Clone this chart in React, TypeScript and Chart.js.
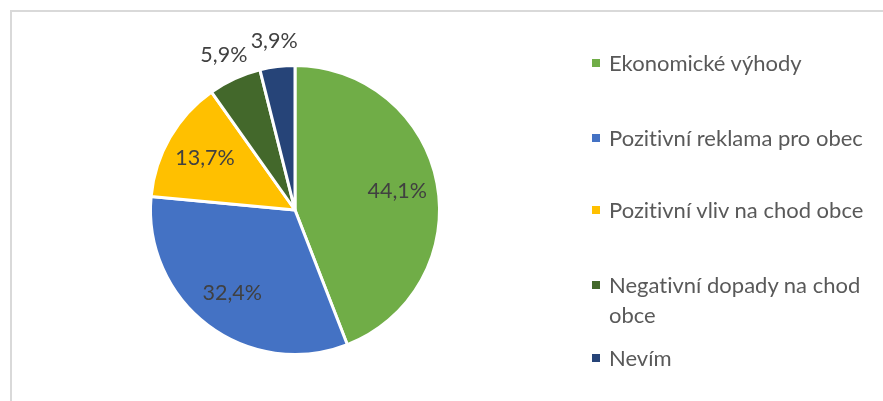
import React, { useEffect, useRef } from "react";
import { Chart, registerables } from "chart.js";

Chart.register(...registerables);

const categories = [
  "Ekonomické výhody",
  "Pozitivní reklama pro obec",
  "Pozitivní vliv na chod obce",
  "Negativní dopady na chod obce",
  "Nevím",
];
const shares = [44.1, 32.4, 13.7, 5.9, 3.9];
const colors = ["#70AD47", "#4472C4", "#FFC000", "#43682B", "#264478"];
const valueLabels = shares.map((v) => v.toFixed(1).replace(".", ",") + "%");

const FONT = "Lato, 'Open Sans', sans-serif";
const legendTops = [48, 123, 195, 270, 343];

const labelPlugin = {
  id: "sliceLabels",
  afterDatasetsDraw(chart: any) {
    const ctx = chart.ctx;
    const meta = chart.getDatasetMeta(0);
    ctx.save();
    ctx.font = `21.5px ${FONT}`;
    ctx.fillStyle = "#404040";
    ctx.textAlign = "center";
    ctx.textBaseline = "middle";
    meta.data.forEach((arc: any, i: number) => {
      const { x, y, startAngle, endAngle, outerRadius } = arc.getProps(
        ["x", "y", "startAngle", "endAngle", "outerRadius"],
        true
      );
      const mid = (startAngle + endAngle) / 2;
      const inside = shares[i] >= 10;
      const r = inside ? outerRadius * 0.72 : outerRadius + 26;
      ctx.fillText(valueLabels[i], x + Math.cos(mid) * r, y + Math.sin(mid) * r);
    });
    ctx.restore();
  },
};

export default function App() {
  const canvasRef = useRef<HTMLCanvasElement | null>(null);

  useEffect(() => {
    if (!canvasRef.current) return;
    const chart = new Chart(canvasRef.current, {
      type: "pie",
      data: {
        labels: categories,
        datasets: [
          {
            data: shares,
            backgroundColor: colors,
            borderColor: "#ffffff",
            borderWidth: 3,
          },
        ],
      },
      options: {
        animation: false,
        responsive: false,
        maintainAspectRatio: false,
        layout: { padding: { left: 149, right: 442, top: 64, bottom: 45 } },
        plugins: {
          legend: { display: false },
          tooltip: { enabled: false },
        },
      },
      plugins: [labelPlugin],
    });
    return () => chart.destroy();
  }, []);

  return (
    <div
      style={{
        position: "absolute",
        left: 0,
        top: 0,
        width: 883,
        height: 401,
        background: "#ffffff",
        overflow: "hidden",
        fontFamily: FONT,
        fontVariantLigatures: "none",
      }}
    >
      <div
        style={{
          position: "absolute",
          left: 10,
          top: 10,
          width: 880,
          height: 400,
          borderTop: "2px solid #d9d9d9",
          borderLeft: "2px solid #d9d9d9",
        }}
      />
      <canvas
        ref={canvasRef}
        width={883}
        height={401}
        style={{ position: "absolute", left: 0, top: 0, width: 883, height: 401 }}
      />
      {categories.map((c, i) => (
        <div
          key={c}
          style={{
            position: "absolute",
            left: 592,
            top: legendTops[i],
            display: "flex",
            alignItems: "flex-start",
          }}
        >
          <div
            style={{
              width: 8,
              height: 8,
              marginTop: 11,
              background: colors[i],
              flex: "0 0 auto",
            }}
          />
          <div
            style={{
              marginLeft: 9,
              width: 272,
              fontSize: 22,
              lineHeight: "30px",
              color: "#595959",
              fontVariantLigatures: "none",
            }}
          >
            {c}
          </div>
        </div>
      ))}
    </div>
  );
}
